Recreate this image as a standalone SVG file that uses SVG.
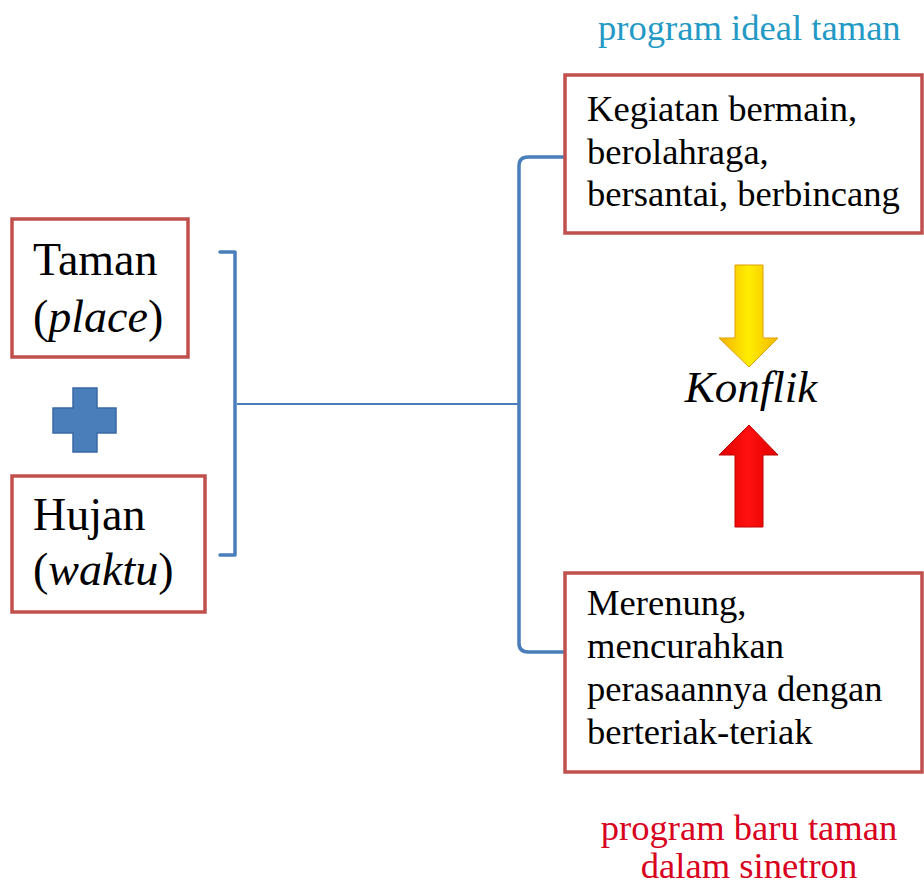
<svg xmlns="http://www.w3.org/2000/svg" width="924" height="887" viewBox="0 0 924 887" font-family="'Liberation Serif', 'Times New Roman', 'DejaVu Serif', serif">
<style>
.box{fill:#ffffff;stroke:#c0504d;stroke-width:3.5}
text{font-family:'Liberation Serif', 'Times New Roman', 'DejaVu Serif', serif;fill:#000000}
.big{font-size:46px}
.mid{font-size:36.6px}
.br{fill:none;stroke:#4a7ebb;stroke-width:3.5;stroke-linejoin:round;stroke-linecap:round}
.thin{fill:none;stroke:#4a7ebb;stroke-width:1.8}
</style>
<defs>
<linearGradient id="yg" x1="0" y1="0" x2="1" y2="0">
<stop offset="0" stop-color="#f5b000"/>
<stop offset="0.5" stop-color="#ffee00"/>
<stop offset="1" stop-color="#f5b800"/>
</linearGradient>
<linearGradient id="rg" x1="0" y1="0" x2="1" y2="0">
<stop offset="0" stop-color="#e00000"/>
<stop offset="0.5" stop-color="#ff1010"/>
<stop offset="1" stop-color="#e00000"/>
</linearGradient>
</defs>
<rect x="0" y="0" width="924" height="887" fill="#ffffff"/>
<g id="connectors">
<path class="br" d="M220,252 H235 V555 H220"/>
<path class="thin" d="M237,404 H519"/>
<path class="br" d="M566,157 H528 Q519,157 519,166 V643 Q519,652 528,652 H566"/>
</g>
<g id="taman">
<rect class="box" x="12" y="219" width="176" height="138"/>
<text class="big" x="33" y="275">Taman</text>
<text class="big" x="33" y="332">(<tspan font-style="italic">place</tspan>)</text>
</g>
<g id="plus">
<path d="M73,388 H97 V408 H116 V433 H97 V452 H73 V433 H53 V408 H73 Z" fill="#4a7ebb" stroke="#3a6aa5" stroke-width="1.5"/>
</g>
<g id="hujan">
<rect class="box" x="12" y="476" width="193" height="136"/>
<text class="big" x="33" y="530">Hujan</text>
<text class="big" x="33" y="585">(<tspan font-style="italic">waktu</tspan>)</text>
</g>
<g id="title-ideal">
<text class="mid" x="598" y="40" style="fill:#2399c6">program ideal taman</text>
</g>
<g id="kegiatan">
<rect class="box" x="565" y="75" width="357" height="158"/>
<text class="mid" x="587" y="121">Kegiatan bermain,</text>
<text class="mid" x="587" y="164">berolahraga,</text>
<text class="mid" x="587" y="206">bersantai, berbincang</text>
</g>
<g id="arrow-yellow">
<path d="M735,265 H763 V338 H778 L749,367 L719,338 H735 Z" fill="url(#yg)" stroke="#e0a000" stroke-width="1"/>
</g>
<g id="konflik">
<text x="751" y="402" font-size="45" font-style="italic" text-anchor="middle">Konflik</text>
</g>
<g id="arrow-red">
<path d="M749,425 L778,455 H763 V527 H735 V455 H719 Z" fill="url(#rg)" stroke="#c00000" stroke-width="1"/>
</g>
<g id="merenung">
<rect class="box" x="565" y="573" width="357" height="199"/>
<text class="mid" x="587" y="615">Merenung,</text>
<text class="mid" x="587" y="658">mencurahkan</text>
<text class="mid" x="587" y="701">perasaannya dengan</text>
<text class="mid" x="587" y="744">berteriak-teriak</text>
</g>
<g id="title-baru">
<text class="mid" x="749" y="840" text-anchor="middle" style="fill:#d8001c">program baru taman</text>
<text class="mid" x="749" y="878" text-anchor="middle" style="fill:#d8001c">dalam sinetron</text>
</g>
</svg>
